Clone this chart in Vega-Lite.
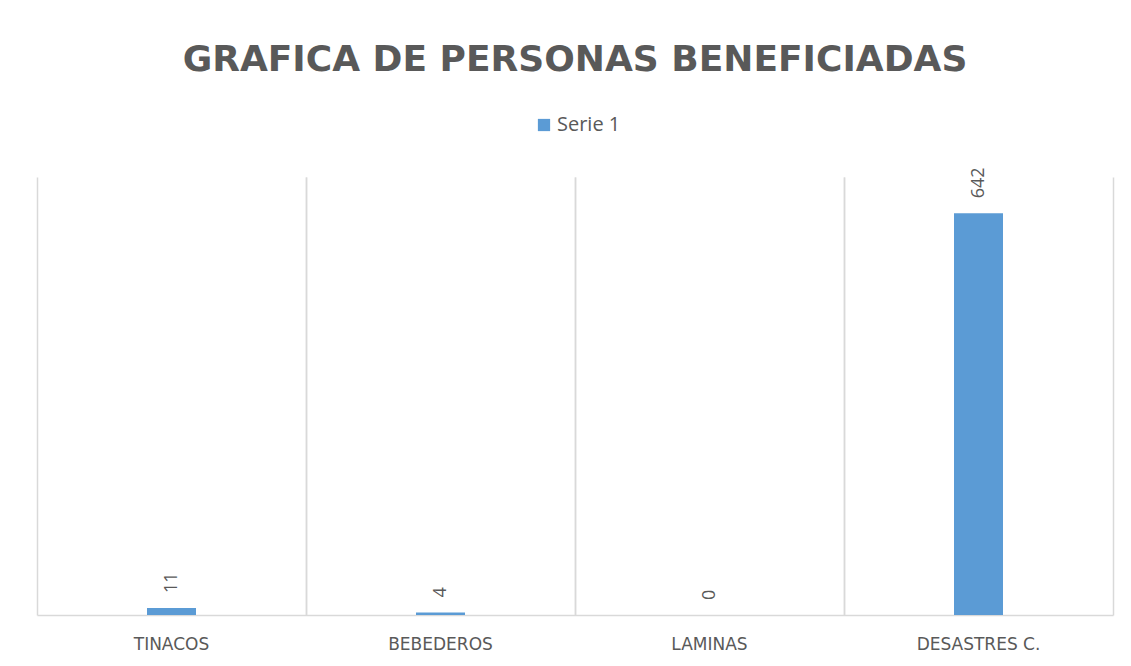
{
  "$schema": "https://vega.github.io/schema/vega-lite/v6.json",
  "width": 1076,
  "height": 438,
  "autosize": {"type": "none"},
  "padding": {"left": 37, "top": 177, "right": 18, "bottom": 51},
  "background": "white",
  "title": {
    "text": "GRAFICA DE PERSONAS BENEFICIADAS",
    "font": "DejaVu Sans",
    "fontSize": 36,
    "fontWeight": "bold",
    "color": "#595959",
    "anchor": "middle",
    "frame": "group",
    "offset": 36
  },
  "data": {
    "values": [
      {"categoria": "TINACOS", "valor": 11, "serie": "Serie 1"},
      {"categoria": "BEBEDEROS", "valor": 4, "serie": "Serie 1"},
      {"categoria": "LAMINAS", "valor": 0, "serie": "Serie 1"},
      {"categoria": "DESASTRES C.", "valor": 642, "serie": "Serie 1"}
    ]
  },
  "config": {"view": {"stroke": null}},
  "layer": [
    {
      "mark": {"type": "bar", "size": 49},
      "encoding": {
        "x": {
          "field": "categoria",
          "type": "nominal",
          "sort": null,
          "scale": {"paddingInner": 0, "paddingOuter": 0},
          "axis": {
            "orient": "bottom",
            "title": null,
            "labelAngle": 0,
            "labelFont": "DejaVu Sans",
            "labelFontSize": 17,
            "labelColor": "#595959",
            "labelPadding": 21,
            "ticks": false,
            "domainColor": "#D9D9D9",
            "domainWidth": 1.5,
            "grid": true,
            "bandPosition": 0,
            "gridColor": "#D9D9D9",
            "gridWidth": 1.5
          }
        },
        "y": {
          "field": "valor",
          "type": "quantitative",
          "scale": {"domain": [0, 700], "nice": false},
          "axis": null
        },
        "color": {
          "field": "serie",
          "type": "nominal",
          "scale": {"range": ["#5B9BD5"]},
          "legend": {
            "title": null,
            "orient": "none",
            "legendX": 497,
            "legendY": -62,
            "symbolType": "square",
            "symbolSize": 150,
            "labelFont": "Open Sans",
            "labelFontSize": 20,
            "labelColor": "#595959",
            "labelOffset": 3
          }
        }
      }
    },
    {
      "mark": {
        "type": "text",
        "angle": 270,
        "align": "left",
        "baseline": "middle",
        "dx": 15,
        "font": "Open Sans",
        "fontSize": 18,
        "color": "#595959"
      },
      "encoding": {
        "x": {
          "field": "categoria",
          "type": "nominal",
          "sort": null,
          "axis": {
            "orient": "top",
            "title": null,
            "labels": false,
            "ticks": false,
            "domain": false,
            "grid": true,
            "bandPosition": 1,
            "gridColor": "#D9D9D9",
            "gridWidth": 1.5
          }
        },
        "y": {"field": "valor", "type": "quantitative"},
        "text": {"field": "valor", "type": "quantitative"}
      }
    }
  ],
  "resolve": {"axis": {"x": "independent"}}
}
